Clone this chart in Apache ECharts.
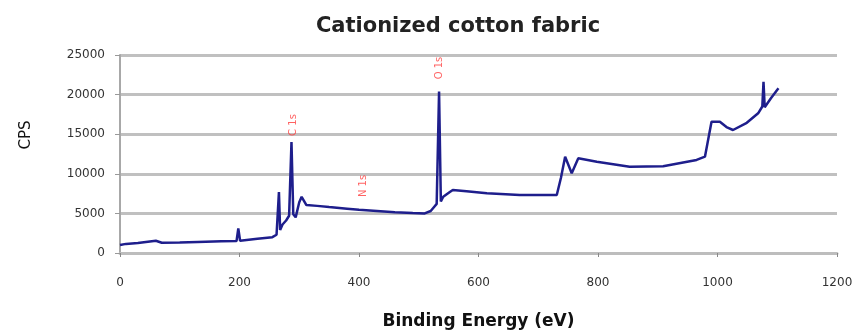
<!DOCTYPE html>
<html>
<head>
<meta charset="utf-8">
<script src="https://cdn.jsdelivr.net/npm/echarts@6/dist/echarts.min.js"></script>
<style>html,body{margin:0;padding:0;background:#fff;}#c{width:858px;height:333px;}</style>
</head>
<body>
<div id="c"></div>
<script>
const titleText = 'Cationized cotton fabric';
const xName = 'Binding Energy (eV)';
const yName = 'CPS';
const energy = [0,10,30,60,70,100,130,170,195,198,201,230,255,262,266,268,272,278,283,287,290,294,300,304,312,330,350,380,400,430,460,490,510,520,526,530,534,537,541,552,557,580,614,669,700,731,738,745,756,767,798,853,909,965,979,990,1004,1015,1026,1049,1068,1075,1077,1079,1090,1102];
const cps =    [1000,1150,1250,1550,1300,1330,1400,1480,1500,3100,1550,1800,2000,2300,7700,2900,3600,4100,4700,14000,4900,4500,6400,7100,6060,5950,5800,5600,5450,5300,5150,5050,5000,5300,5840,6200,20400,6500,7100,7700,7960,7800,7540,7330,7330,7330,9500,12160,10060,11960,11530,10900,10950,11750,12160,16580,16580,15900,15530,16440,17640,18500,21630,18400,19600,20800];
const peakNames = ['C 1s','N 1s','O 1s'];
const peakX = [290,407,534];
const peakY = [16160,8460,23360];
const xTicks = {min:0,max:1200,interval:200};
const yTicks = {min:0,max:25000,interval:5000};

const chart = echarts.init(document.getElementById('c'));
chart.setOption({
  animation:false,
  backgroundColor:'#ffffff',
  title:{text:titleText,left:453,textAlign:'center',top:11,
    textStyle:{fontFamily:'DejaVu Sans',fontWeight:'bold',fontSize:21,color:'#222'}},
  grid:{left:120,right:21,top:55,bottom:80,containLabel:false,outerBoundsMode:'none'},
  xAxis:{type:'value',min:xTicks.min,max:xTicks.max,interval:xTicks.interval,
    name:xName,nameLocation:'middle',nameGap:60,
    nameTextStyle:{fontFamily:'DejaVu Sans',fontWeight:'bold',fontSize:17,color:'#111'},
    axisLine:{show:true,onZero:false,lineStyle:{color:'#bdbdbd',width:3}},
    axisTick:{show:true,inside:false,length:4,lineStyle:{color:'#888',width:1}},
    axisLabel:{margin:24,fontFamily:'DejaVu Sans',fontSize:12,color:'#333',formatter:v=>String(v)},
    splitLine:{show:false}},
  yAxis:{type:'value',min:yTicks.min,max:yTicks.max,interval:yTicks.interval,
    name:yName,nameLocation:'middle',nameGap:86,
    nameTextStyle:{fontFamily:'DejaVu Sans',fontSize:15,color:'#111',padding:[0,0,0,38]},
    axisLine:{show:true,lineStyle:{color:'#a8a8a8',width:2}},
    axisTick:{show:true,length:5,lineStyle:{color:'#999',width:1}},
    axisLabel:{margin:15,fontFamily:'DejaVu Sans',fontSize:12,color:'#333',formatter:v=>String(v)},
    splitLine:{show:true,lineStyle:{color:'#c0c0c0',width:3}}},
  series:[
    {type:'line',data:energy.map((e,i)=>[e,cps[i]]),showSymbol:false,symbol:'none',
      lineStyle:{color:'#1e1e8c',width:2.5},z:3},
    {type:'scatter',symbolSize:0,data:peakNames.map((n,i)=>({name:n,value:[peakX[i],peakY[i]]})),
      label:{show:true,formatter:'{b}',rotate:90,position:'inside',color:'#ff3b3b',
        fontFamily:'DejaVu Sans',fontSize:10},z:4}
  ]
});
</script>
</body>
</html>
